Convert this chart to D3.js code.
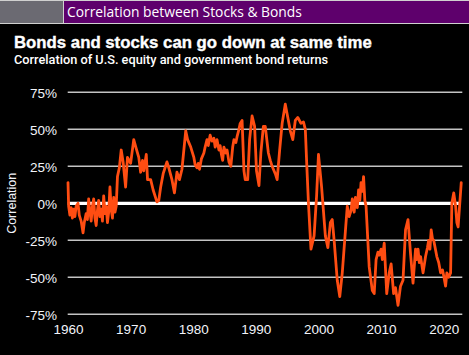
<!DOCTYPE html>
<html><head><meta charset="utf-8">
<script src="https://cdn.jsdelivr.net/npm/d3@7/dist/d3.min.js"></script>
<style>
html,body{margin:0;padding:0;background:#000;}
svg{display:block;}
</style></head>
<body>
<svg id="chart" width="469" height="355"></svg>
<script>
const headerText = "Correlation between Stocks & Bonds";
const titleText = "Bonds and stocks can go down at same time";
const subtitleText = "Correlation of U.S. equity and government bond returns";
const yAxisLabel = "Correlation";
const xTicks = [1960, 1970, 1980, 1990, 2000, 2010, 2020];
const yTicks = [-75, -50, -25, 0, 25, 50, 75];

const years = [
1960.0,1960.1,1960.3,1960.5,1960.7,1960.9,1961.1,1961.3,1961.6,1961.8,1962.1,1962.4,1962.6,1962.9,1963.1,1963.3,1963.5,1963.7,1963.9,1964.1,
1964.3,1964.5,1964.7,1964.9,1965.1,1965.3,1965.5,1965.7,1965.9,1966.1,1966.3,1966.5,1966.7,1966.9,1967.1,1967.3,1967.5,1967.7,1967.9,
1968.2,1968.5,1968.8,1969.2,1969.5,1970.0,1970.5,1970.9,1971.3,1971.6,1971.9,1972.1,1972.5,1972.7,1973.2,1973.6,1974.2,1974.5,1974.8,1975.2,1975.5,1975.8,1976.1,1976.6,1977.0,1977.4,1977.8,1978.2,1978.8,1979.1,1979.4,1979.6,
1980.1,1980.3,1980.6,1980.8,1981.0,1981.3,1981.7,1981.9,1982.2,1982.4,1982.7,1983.0,1983.3,1983.5,1983.8,1984.1,1984.3,1984.5,1984.7,1984.9,1985.2,1985.4,1985.7,1986.0,1986.3,1986.5,1986.8,1987.0,1987.3,1987.5,1987.8,
1988.1,1988.3,1988.7,1989.0,1989.4,1989.8,1990.1,1990.5,1990.8,1991.2,1991.5,1992.0,1992.3,1992.6,1993.1,1993.4,1993.8,1994.2,1994.7,1995.1,1995.5,1995.9,1996.3,1996.7,1997.2,1997.6,1997.9,1998.1,1998.4,1998.8,
1999.3,1999.7,2000.0,2000.5,2001.1,2001.5,2001.9,2002.2,2002.5,2003.0,2003.4,2003.8,2004.4,2004.6,2004.9,2005.2,2005.4,2005.7,2005.9,2006.2,2006.4,2006.6,2006.8,2007.0,2007.2,2007.4,2007.6,
2008.1,2008.6,2008.9,2009.2,2009.5,2009.7,2010.0,2010.2,2010.5,2010.9,2011.3,2011.6,2012.0,2012.3,2012.5,2012.7,2013.1,2013.5,2013.9,2014.3,2014.7,2015.1,2015.5,2015.7,2015.9,2016.1,2016.3,
2016.7,2017.1,2017.4,2017.6,2017.8,2018.0,2018.2,2018.4,2018.9,2019.2,2019.5,2019.8,2020.0,2020.3,2020.5,2020.8,2021.1,2021.3,2021.6,2021.9,2022.1,2022.3,2022.8
];
const correlation = [
14,-2,-8,-3,-10,-4,-9,-2,0,-8,-12,-20,-13,-7,-11,3,-6,-12,-2,3,
-10,-15,-5,2,-9,-4,-12,5,-7,-2,-13,-6,11,-4,-10,4,-6,-2,18,
24,36,28,11,31,27,43,37,31,21,29,22,33,16,16,9,1,2,11,20,24,28,24,16,7,21,16,23,49,43,40,38,
31,26,24,27,23,30,34,38,43,39,46,42,44,38,43,36,39,33,29,38,34,36,28,25,38,43,41,45,50,54,56,
22,16,16,43,59,52,22,12,34,52,52,34,29,25,20,16,36,54,67,58,49,43,56,58,54,55,50,29,0,-31,
-22,5,33,11,-22,-30,-13,-11,-25,-52,-63,-47,-13,-2,-9,-5,3,-6,4,-3,9,2,14,8,18,2,-2,
-43,-59,-61,-38,-33,-35,-31,-38,-27,-61,-47,-41,-61,-57,-63,-69,-56,-52,-18,-11,-34,-54,-31,-38,-31,-40,-36,
-47,-36,-30,-25,-31,-18,-24,-25,-36,-40,-47,-45,-49,-56,-47,-50,-47,0,7,-2,-13,-16,14
];

const svg = d3.select("#chart");
const W = 469, H = 355;
svg.append("rect").attr("width", W).attr("height", H).attr("fill", "#000");

// header band
svg.append("rect").attr("x",0).attr("y",0).attr("width",W).attr("height",24).attr("fill","#d0d0d0");
svg.append("rect").attr("x",0).attr("y",1).attr("width",63).attr("height",22).attr("fill","#6b6a72");
svg.append("rect").attr("x",64).attr("y",1).attr("width",W-64).attr("height",22).attr("fill","#5e006c");

function fit(sel, target) {
  const n = sel.node();
  let fs = parseFloat(sel.attr("font-size"));
  const w = n.getComputedTextLength();
  if (w > 0) sel.attr("font-size", (fs * target / w).toFixed(2));
}

const hdr = svg.append("text").attr("x",67).attr("y",17).attr("fill","#fff")
  .attr("font-family","'Open Sans', sans-serif").attr("font-weight",400).attr("font-size",14).text(headerText);
fit(hdr, 235);

const ttl = svg.append("text").attr("x",14).attr("y",48).attr("fill","#fff")
  .attr("font-family","'Liberation Sans', Arial, sans-serif").attr("font-weight",700).attr("font-size",15)
  .attr("stroke","#fff").attr("stroke-width",0.35).text(titleText);
fit(ttl, 358);

const sub = svg.append("text").attr("x",14).attr("y",64).attr("fill","#fff")
  .attr("font-family","'Roboto', 'Liberation Sans', sans-serif").attr("font-weight",500).attr("font-size",11.5).text(subtitleText);
fit(sub, 314);

const x = d3.scaleLinear().domain([1960, 2023]).range([68, 462.5]);
const y = d3.scaleLinear().domain([-75, 75]).range([314.3, 92.3]);

// gridlines
svg.append("g").selectAll("line").data(yTicks.filter(d => d !== 0)).join("line")
  .attr("x1", 67.7).attr("x2", 462.3)
  .attr("y1", d => y(d)).attr("y2", d => y(d))
  .attr("stroke", "#c4c4c4").attr("stroke-width", 1.5);

// zero line
svg.append("line").attr("x1", 67.7).attr("x2", 460).attr("y1", y(0)).attr("y2", y(0))
  .attr("stroke", "#fff").attr("stroke-width", 3.2);

// y axis labels
const yAxis = d3.axisLeft(y).tickValues(yTicks).tickFormat(d => d + "%").tickSize(0).tickPadding(0);
const yg = svg.append("g").attr("transform", "translate(57,0)").call(yAxis);
yg.select(".domain").remove();
yg.selectAll("text").attr("fill", "#f2f4fa").attr("font-size", 13.5)
  .attr("font-family", "'Liberation Sans', Arial, sans-serif").attr("dy", "0.35em");

// x axis
const xAxis = d3.axisBottom(x).tickValues(xTicks).tickFormat(d3.format("d")).tickSize(0).tickPadding(10.5);
const xg = svg.append("g").attr("transform", `translate(0,${y(-75)})`).call(xAxis);
xg.select(".domain").remove();
xg.selectAll("text").attr("fill", "#f2f4fa").attr("font-size", 13.5)
  .attr("font-family", "'Liberation Sans', Arial, sans-serif");

// y label
svg.append("text").attr("transform", `translate(16,${y(0)}) rotate(-90)`)
  .attr("text-anchor", "middle").attr("fill", "#f2f4fa")
  .attr("font-family", "'Liberation Sans', Arial, sans-serif").attr("font-size", 12.5)
  .text(yAxisLabel);

// line
const data = years.map((yr, i) => ({ yr, v: correlation[i] }));
const line = d3.line().x(d => x(d.yr)).y(d => y(d.v));
svg.append("path").datum(data).attr("d", line)
  .attr("fill", "none").attr("stroke", "#ff4d12").attr("stroke-width", 2.8)
  .attr("stroke-linejoin", "round").attr("stroke-linecap", "round");
</script>
</body></html>
